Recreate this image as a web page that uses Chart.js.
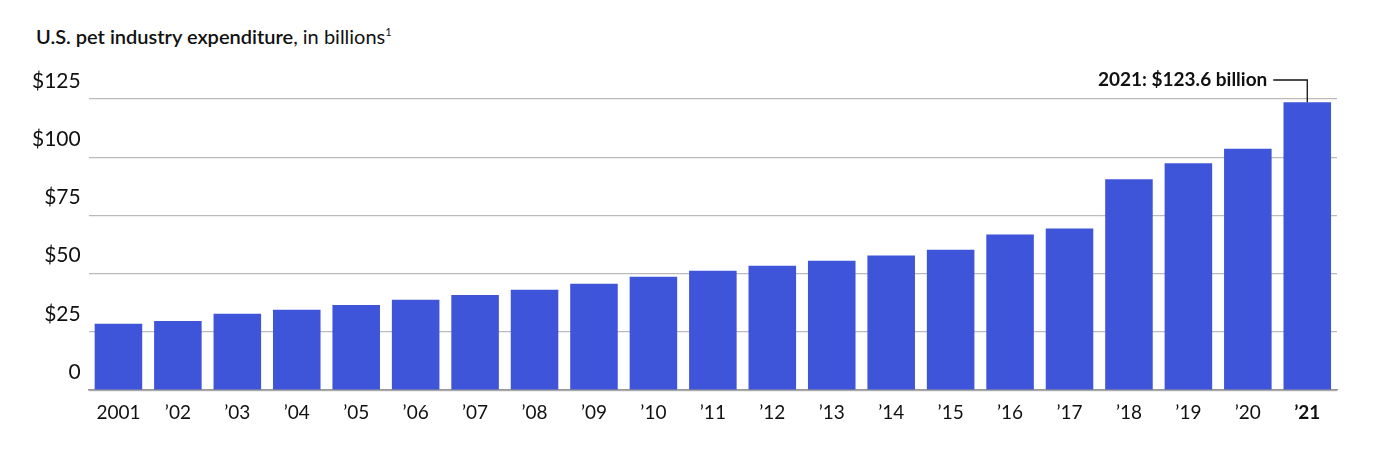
<!DOCTYPE html>
<html><head><meta charset="utf-8">
<script src="https://cdn.jsdelivr.net/npm/chart.js@4"></script>
<style>body{margin:0;background:#fff;font-family:Lato,Inter,sans-serif}
#t{position:absolute;left:36px;top:24px;font-size:20px;color:#111}
#w{position:absolute;left:0;top:50px;width:1400px;height:410px}</style></head>
<body><div id="t"><b style="font-weight:600">U.S. pet industry expenditure</b>, in billions<sup style="font-size:11px">1</sup></div>
<div id="w"><canvas id="c"></canvas></div>
<script>
const categories=["2001","’02","’03","’04","’05","’06","’07","’08","’09","’10","’11","’12","’13","’14","’15","’16","’17","’18","’19","’20","’21"];
const values=[28.5,29.7,32.8,34.5,36.6,38.8,40.9,43.1,45.7,48.7,51.3,53.4,55.6,57.8,60.3,66.8,69.4,90.5,97.4,103.6,123.6];
const yTicks=[0,25,50,75,100,125];
const note="2021: $123.6 billion";
const ann={id:'ann',afterDraw(ch){const m=ch.getDatasetMeta(0).data[20];const ctx=ch.ctx;const y=ch.scales.y.getPixelForValue(125)-19;
ctx.save();ctx.font='bold 19px Lato';ctx.fillStyle='#111';ctx.textAlign='right';ctx.textBaseline='middle';
ctx.fillText(note,m.x-40,y);ctx.strokeStyle='#111';ctx.lineWidth=1.3;ctx.beginPath();ctx.moveTo(m.x-34,y);ctx.lineTo(m.x,y);ctx.lineTo(m.x,m.y);ctx.stroke();ctx.restore();}};
new Chart(document.getElementById('c'),{type:'bar',data:{labels:categories,datasets:[{data:values,backgroundColor:'#3f55d9',categoryPercentage:0.8,barPercentage:1}]},
options:{responsive:true,maintainAspectRatio:false,animation:false,layout:{padding:{left:24,right:63,top:49,bottom:33}},
plugins:{legend:{display:false},tooltip:{enabled:false}},
scales:{x:{grid:{display:false},border:{color:'#999',width:1.5},ticks:{color:'#111',font:(c)=>({family:'Lato',size:19,weight:c.index===20?'bold':'normal'})}},
y:{min:0,max:125,afterBuildTicks:(s)=>{s.ticks=yTicks.map(v=>({value:v}))},grid:{color:'#bbb',lineWidth:1.3,drawTicks:false},border:{display:false},
ticks:{padding:8,labelOffset:-18,color:'#111',font:{family:'Lato',size:21},callback:v=>v===0?'0':'$'+v}}}},plugins:[ann]});
</script></body></html>
